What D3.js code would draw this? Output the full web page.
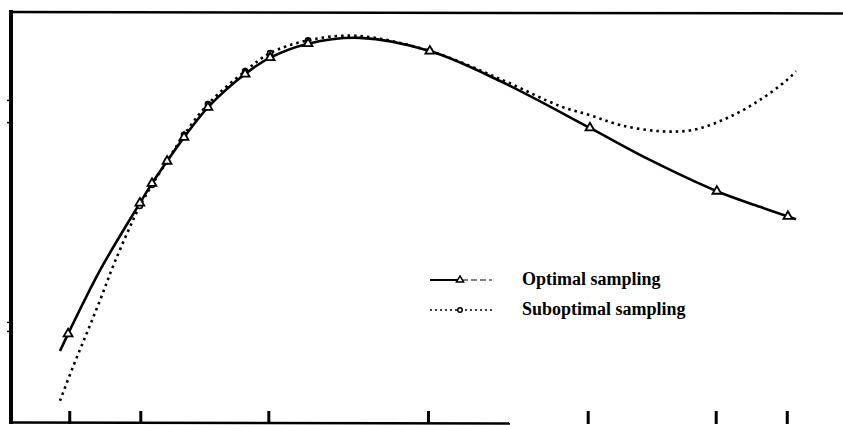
<!DOCTYPE html>
<html><head><meta charset="utf-8">
<script src="https://cdn.jsdelivr.net/npm/d3@7"></script>
<style>html,body{margin:0;padding:0;background:#fff;}svg{display:block;}</style>
</head><body>
<svg id="c" width="843" height="425"></svg>
<script>
// ---- data (x in [-1,1], y in arbitrary units 0..100) ----
const optimalX = [-1.0, -0.978, -0.891, -0.783, -0.750, -0.709, -0.663, -0.598, -0.497, -0.429, -0.326, -0.185, 0.005, 0.196, 0.440, 0.603, 0.785, 0.902, 1.0];
const optimalY = [17.5, 21.7, 37.2, 53.5, 58.3, 63.7, 69.5, 76.8, 84.9, 88.9, 92.3, 93.7, 90.5, 83.2, 71.8, 64.0, 56.4, 52.6, 49.6];
const suboptX = [-1.0, -0.965, -0.927, -0.891, -0.851, -0.783, -0.750, -0.709, -0.663, -0.598, -0.497, -0.429, -0.326, -0.193, 0.005, 0.196, 0.359, 0.440, 0.522, 0.630, 0.720, 0.813, 0.902, 0.976, 1.0];
const suboptY = [5.4, 13.6, 21.9, 29.9, 39.2, 52.8, 57.9, 63.7, 70.1, 77.6, 85.6, 90.0, 93.1, 94.2, 90.5, 83.7, 77.1, 74.9, 72.5, 71.0, 71.3, 74.2, 78.6, 83.5, 85.6];
// sample (marker) locations
const optimalMarkX = [-0.978, -0.783, -0.750, -0.709, -0.663, -0.598, -0.497, -0.429, -0.326, 0.005, 0.440, 0.785, 0.978];
const suboptMarkX = [-0.783, -0.750, -0.709, -0.663, -0.598, -0.497, -0.429, -0.326, 0.005];
const xTicks = [-0.9749, -0.7818, -0.4339, 0, 0.4339, 0.7818, 0.9749];
const yMarks = [78.6, 73.2, 24.6, 22.4];
const legendLabels = ["Optimal sampling", "Suboptimal sampling"];

const svg = d3.select("#c");
svg.append("rect").attr("width", 843).attr("height", 425).attr("fill", "#fff");

const x = d3.scaleLinear().domain([-1, 1]).range([60, 796]);
const y = d3.scaleLinear().domain([0, 100]).range([423, 12]);

// frame
svg.append("line").attr("x1", 11).attr("x2", 11).attr("y1", 10).attr("y2", 424)
  .attr("stroke", "#000").attr("stroke-width", 4);
svg.append("line").attr("x1", 9).attr("x2", 843).attr("y1", 12).attr("y2", 13.5)
  .attr("stroke", "#000").attr("stroke-width", 2.5);
svg.append("line").attr("x1", 9).attr("x2", 510).attr("y1", 422.5).attr("y2", 423.5)
  .attr("stroke", "#000").attr("stroke-width", 2.5);

// bottom axis ticks (inward)
const xAxis = d3.axisBottom(x).tickValues(xTicks).tickSize(-13).tickFormat("");
const gx = svg.append("g").attr("transform", "translate(0,424)").call(xAxis);
gx.select(".domain").remove();
gx.selectAll(".tick line").attr("stroke", "#000").attr("stroke-width", 3);

// left small marks
const yAxis = d3.axisLeft(y).tickValues(yMarks).tickSize(3).tickFormat("");
const gy = svg.append("g").attr("transform", "translate(10,0)").call(yAxis);
gy.select(".domain").remove();
gy.selectAll(".tick line").attr("stroke", "#000").attr("stroke-width", 1.5);

function interp(xs, ys, xv) {
  for (let i = 0; i < xs.length - 1; i++) {
    if (xv >= xs[i] && xv <= xs[i + 1]) {
      const t = (xv - xs[i]) / (xs[i + 1] - xs[i]);
      return ys[i] + t * (ys[i + 1] - ys[i]);
    }
  }
  return ys[ys.length - 1];
}

const line = d3.line().x(d => x(d[0])).y(d => y(d[1])).curve(d3.curveCatmullRom.alpha(0.5));
const optData = optimalX.map((v, i) => [v, optimalY[i]]);
const subData = suboptX.map((v, i) => [v, suboptY[i]]);

svg.append("path").datum(subData).attr("d", line).attr("fill", "none")
  .attr("stroke", "#000").attr("stroke-width", 2.6).attr("stroke-dasharray", "2.5,4");
svg.append("path").datum(optData).attr("d", line).attr("fill", "none")
  .attr("stroke", "#000").attr("stroke-width", 2.6);

const tri = d3.symbol().type(d3.symbolTriangle).size(34);
const circ = d3.symbol().type(d3.symbolCircle).size(20);

svg.selectAll(".sm").data(suboptMarkX).enter().append("path")
  .attr("transform", d => `translate(${x(d)},${y(interp(suboptX, suboptY, d))})`)
  .attr("d", circ).attr("fill", "#fff").attr("stroke", "#000").attr("stroke-width", 1.6);
svg.selectAll(".om").data(optimalMarkX).enter().append("path")
  .attr("transform", d => `translate(${x(d)},${y(interp(optimalX, optimalY, d))})`)
  .attr("d", tri).attr("fill", "#fff").attr("stroke", "#000").attr("stroke-width", 1.8);

// legend
const lg = svg.append("g");
const rows = [280, 310];
lg.append("line").attr("x1", 430).attr("x2", 458).attr("y1", rows[0]).attr("y2", rows[0])
  .attr("stroke", "#000").attr("stroke-width", 2);
lg.append("line").attr("x1", 462).attr("x2", 492).attr("y1", rows[0]).attr("y2", rows[0])
  .attr("stroke", "#000").attr("stroke-width", 1.2).attr("stroke-dasharray", "6,3");
lg.append("path").attr("transform", `translate(460,${rows[0]})`).attr("d", d3.symbol().type(d3.symbolTriangle).size(22))
  .attr("fill", "#fff").attr("stroke", "#000").attr("stroke-width", 1.5);
lg.append("line").attr("x1", 430).attr("x2", 492).attr("y1", rows[1]).attr("y2", rows[1])
  .attr("stroke", "#000").attr("stroke-width", 1.6).attr("stroke-dasharray", "2,3");
lg.append("path").attr("transform", `translate(460,${rows[1]})`).attr("d", d3.symbol().type(d3.symbolCircle).size(16))
  .attr("fill", "#fff").attr("stroke", "#000").attr("stroke-width", 1.5);
lg.selectAll("text").data(legendLabels).enter().append("text")
  .attr("x", 522).attr("y", (d, i) => rows[i] + 5)
  .attr("font-family", "'Liberation Serif', 'Times New Roman', serif")
  .attr("font-weight", "bold").attr("font-size", 18).attr("fill", "#000")
  .text(d => d);
</script>
</body></html>
